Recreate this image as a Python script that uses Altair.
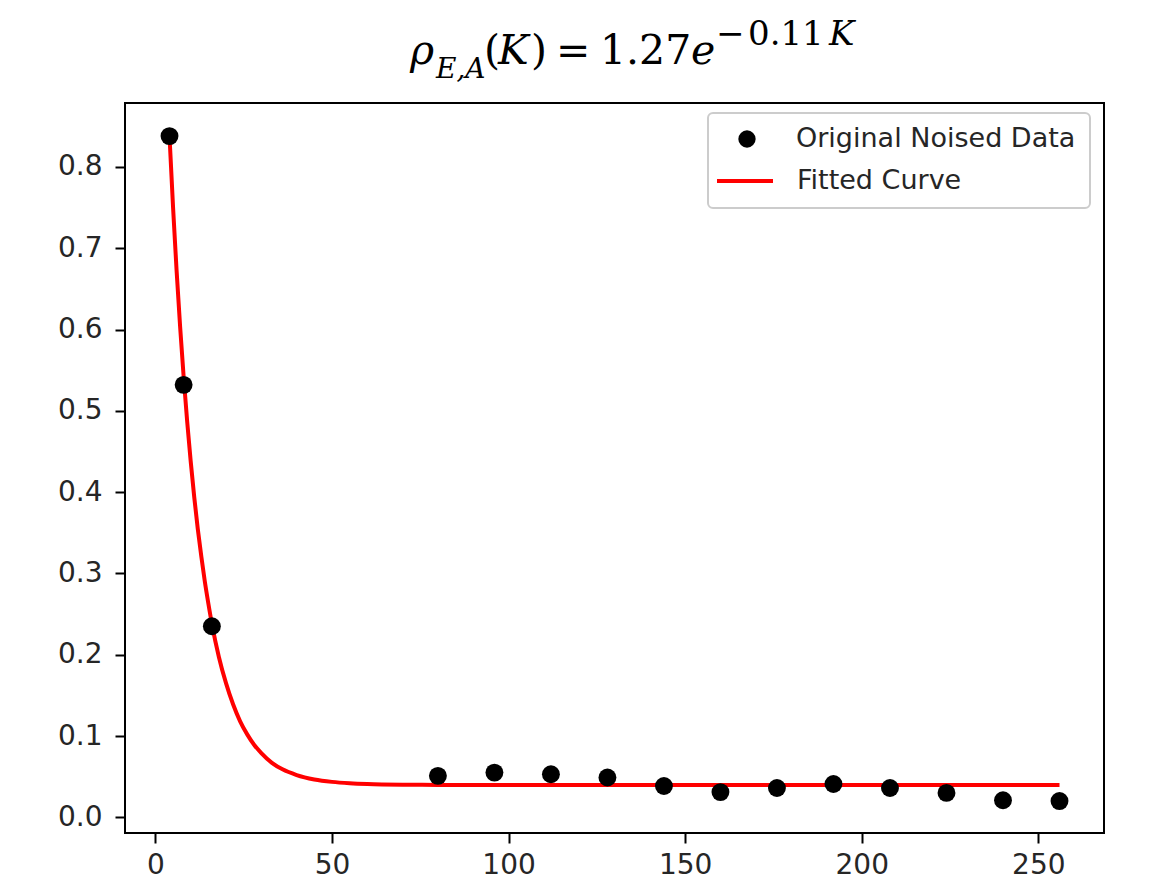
import altair as alt
import pandas as pd

# Observed (noised) data
K_data = [4, 8, 16, 80, 96, 112, 128, 144, 160, 176, 192, 208, 224, 240, 256]
rho_data = [0.838, 0.532, 0.235, 0.051, 0.055, 0.053, 0.049, 0.0385, 0.031,
            0.036, 0.041, 0.036, 0.030, 0.021, 0.020]

# Fitted curve
K_fit = [4, 5, 6, 7, 8, 9, 10, 11, 12, 13, 14, 15, 16, 18, 20, 22, 24, 26, 28,
         30, 33, 36, 40, 45, 50, 55, 60, 70, 80, 100, 150, 200, 256]
rho_fit = [0.838, 0.751, 0.673, 0.604, 0.542, 0.487, 0.438, 0.394, 0.355,
           0.321, 0.290, 0.263, 0.238, 0.197, 0.165, 0.139, 0.118, 0.102,
           0.089, 0.079, 0.067, 0.059, 0.052, 0.0466, 0.0436, 0.0419, 0.0409,
           0.0401, 0.0399, 0.0397, 0.0397, 0.0397, 0.0397]

x_ticks = [0, 50, 100, 150, 200, 250]
y_ticks = [0.0, 0.1, 0.2, 0.3, 0.4, 0.5, 0.6, 0.7, 0.8]

df_pts = pd.DataFrame({"K": K_data, "rho": rho_data, "series": "Original Noised Data"})
df_fit = pd.DataFrame({"K": K_fit, "rho": rho_fit, "series": "Fitted Curve"})

W, H = 979, 730
LABEL_FONT = "DejaVu Sans"
FS = 28

xscale = alt.Scale(domain=[-8.6, 268.6], nice=False, zero=False)
yscale = alt.Scale(domain=[-0.0193, 0.8787], nice=False, zero=False)

axis_common = dict(
    grid=False, domain=False, ticks=True, tickSize=10, tickWidth=2,
    tickColor="black", labelFont=LABEL_FONT, labelFontSize=FS,
    labelColor="#262626", title=None,
)

x_enc = alt.X("K:Q", scale=xscale,
              axis=alt.Axis(values=x_ticks, format="d", labelPadding=8, **axis_common))
y_enc = alt.Y("rho:Q", scale=yscale,
              axis=alt.Axis(values=y_ticks, format=".1f", labelPadding=13, **axis_common))

one = alt.Data(values=[{"a": 1}])

legend_box = alt.Chart(one).mark_rect(
    fill="white", fillOpacity=0.8, stroke="#cccccc", strokeWidth=2, cornerRadius=5
).encode(x=alt.value(583), x2=alt.value(965), y=alt.value(10), y2=alt.value(105))

line = alt.Chart(df_fit).mark_line(strokeWidth=4, interpolate="monotone").encode(
    x=x_enc, y=y_enc,
    stroke=alt.Stroke("series:N",
                      scale=alt.Scale(domain=["Fitted Curve"], range=["red"]),
                      legend=alt.Legend(title=None, orient="none", legendX=590, legendY=48,
                                        padding=0, symbolSize=3136, symbolStrokeWidth=4,
                                        symbolType="stroke", labelLimit=0,
                                        labelOffset=22, labelFont=LABEL_FONT,
                                        labelFontSize=FS - 1, labelColor="#262626")),
)

pts = alt.Chart(df_pts).mark_point(filled=True, shape="circle", size=320, opacity=1).encode(
    x=x_enc, y=y_enc,
    fill=alt.Fill("series:N",
                  scale=alt.Scale(domain=["Original Noised Data"], range=["black"]),
                  legend=alt.Legend(title=None, orient="none", legendX=608.5, legendY=22.5,
                                    padding=0, symbolSize=300, symbolStrokeWidth=0,
                                    symbolType="circle", symbolOpacity=1, labelLimit=0,
                                    labelOffset=35.5, labelFont=LABEL_FONT,
                                    labelFontSize=FS - 1, labelColor="#262626")),
)


def tpiece(text, x, y, size, italic):
    return alt.Chart(one).mark_text(
        text=text, font="DejaVu Serif", fontSize=size,
        fontStyle="italic" if italic else "normal",
        align="left", baseline="alphabetic", color="black",
    ).encode(x=alt.value(x), y=alt.value(y))


OX = 125  # page x of plot left
OY = 103  # page y of plot top
MAIN, SCRIPT = 41, 34
title_layers = [
    tpiece("ρ", 410 - OX, 64 - OY, MAIN, True),
    tpiece("E,A", 436 - OX, 78 - OY, 28, True),
    tpiece("(", 484 - OX, 64 - OY, MAIN, False),
    tpiece("K", 498 - OX, 64 - OY, MAIN, True),
    tpiece(")", 531 - OX, 64 - OY, MAIN, False),
    tpiece("=", 556 - OX, 64 - OY, MAIN, False),
    tpiece("1.27", 600 - OX, 64 - OY, MAIN, False),
    tpiece("e", 691 - OX, 64 - OY, MAIN, True),
    tpiece("−", 716 - OX, 45 - OY, SCRIPT, False),
    tpiece("0.11", 748 - OX, 45 - OY, SCRIPT, False),
    tpiece("K", 829 - OX, 45 - OY, SCRIPT, True),
]

chart = alt.layer(legend_box, line, pts, *title_layers).resolve_scale(
    fill="independent", stroke="independent"
).properties(
    width=W, height=H,
    padding={"left": 117, "top": 95, "right": 51, "bottom": 50},
    autosize=alt.AutoSizeParams(type="none"),
    background="white",
).configure_view(stroke="black", strokeWidth=2)

chart.save("out.html", embed_options={"renderer": "svg", "actions": False})
